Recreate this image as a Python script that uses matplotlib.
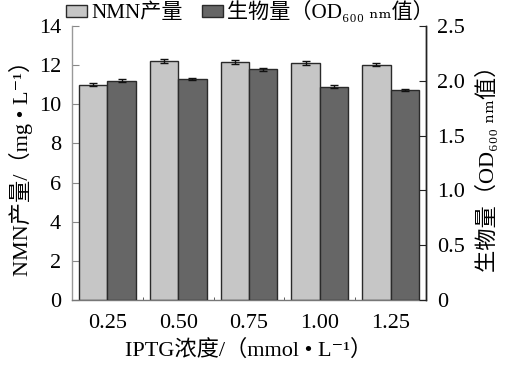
import matplotlib
matplotlib.use("Agg")
import matplotlib.pyplot as plt
import numpy as np

plt.rcParams['font.family'] = ['Liberation Serif', 'DejaVu Serif', 'Noto Sans CJK SC']

categories = ["0.25", "0.50", "0.75", "1.00", "1.25"]
nmn_values = [11.0, 12.2, 12.15, 12.1, 12.03]
nmn_errors = [0.07, 0.1, 0.1, 0.1, 0.09]
od_values = [2.0, 2.015, 2.107, 1.946, 1.914]
od_errors = [0.012, 0.008, 0.014, 0.012, 0.01]

left_ticks = [0, 2, 4, 6, 8, 10, 12, 14]
right_ticks = [0, 0.5, 1.0, 1.5, 2.0, 2.5]
right_ticklabels = ["0", "0.5", "1.0", "1.5", "2.0", "2.5"]

W, H = 509, 367
fig = plt.figure(figsize=(W/100, H/100), dpi=100)
ax = fig.add_axes([72/W, 1-300/H, (426-72)/W, (300-26)/H])
ax2 = ax.twinx()

x = np.arange(len(categories))
bw = 0.4
light = "#c6c6c6"
dark = "#666666"
edge = "#2a2a2a"

b1 = ax.bar(x - bw/2, nmn_values, bw, color=light, edgecolor=edge, linewidth=1.0,
            yerr=nmn_errors, capsize=2.8, error_kw=dict(ecolor="#111", elinewidth=1.0, capthick=1.0),
            label="NMN产量", zorder=2)
b2 = ax2.bar(x + bw/2, od_values, bw, color=dark, edgecolor=edge, linewidth=1.0,
             yerr=od_errors, capsize=2.8, error_kw=dict(ecolor="#111", elinewidth=1.0, capthick=1.0),
             label="生物量（OD₆₀₀ ₙₘ值）", zorder=2)

ax.set_xlim(-0.5, len(categories) - 0.5)
ax.set_ylim(0, 14)
ax2.set_ylim(0, 2.5)
ax.set_yticks(left_ticks)
ax.set_yticklabels([str(t) for t in left_ticks])
ax2.set_yticks(right_ticks)
ax2.set_yticklabels(right_ticklabels)
ax.set_xticks(x)
ax.set_xticklabels(categories)
ax.set_xticks(np.arange(0.5, len(categories) - 1, 1.0), minor=True)

fs = 16
ax.tick_params(axis='x', which='major', length=0, labelsize=fs, pad=10)
ax.tick_params(axis='x', which='minor', length=2, direction='in', color="#444")
ax.tick_params(axis='y', length=5, direction='in', labelsize=fs, color="#888", pad=8)
ax2.tick_params(axis='y', length=5, direction='in', labelsize=fs, color="#222", pad=8)

for a in (ax, ax2):
    a.spines['top'].set_visible(False)
ax.spines['left'].set_color("#999999")
ax.spines['bottom'].set_color("#777777")
ax2.spines['left'].set_visible(False)
ax2.spines['bottom'].set_visible(False)
ax2.spines['right'].set_color("#222222")
for a in (ax, ax2):
    for s in a.spines.values():
        s.set_linewidth(1.0)

ax.set_ylabel("NMN产量/（mg • L⁻¹）", fontsize=fs, labelpad=4)
ax2.set_ylabel("生物量（OD₆₀₀ ₙₘ值）", fontsize=fs, labelpad=8, rotation=90)
ax.set_xlabel("IPTG浓度/（mmol • L⁻¹）", fontsize=fs, labelpad=5)

fig.legend(handles=[b1, b2], labels=["NMN产量", "生物量（OD₆₀₀ ₙₘ值）"],
           loc='center', bbox_to_anchor=(250/W, 1-12/H), ncol=2, frameon=False,
           fontsize=15.2, handlelength=1.0, handleheight=0.5, handletextpad=0.2,
           columnspacing=0.9, borderaxespad=0, borderpad=0)

fig.savefig("out.png", dpi=100)
